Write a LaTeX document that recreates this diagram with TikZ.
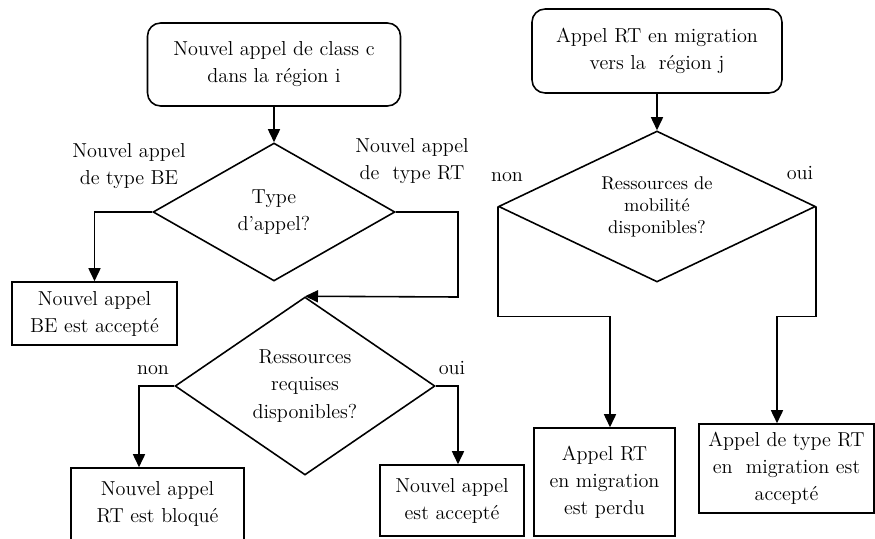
\documentclass[tikz,border=0pt]{standalone}
\usetikzlibrary{shapes.geometric,arrows.meta}
\begin{document}
\begin{tikzpicture}[x=0.02cm,y=-0.02cm,
    every node/.style={font=\fontsize{11.5}{15.4}\selectfont, align=center},
    debut/.style={draw, rectangle, rounded corners=0.26cm, line width=0.9pt, inner sep=0pt},
    choix/.style={draw, diamond, line width=0.9pt, inner sep=0pt},
    boite/.style={draw, rectangle, line width=0.9pt, inner sep=0pt},
    fleche/.style={line width=0.9pt, -{Triangle[length=0.26cm,width=0.24cm]}}]
    % Cadre
    \useasboundingbox (0,0) rectangle (875,538);
    \clip (0,0) rectangle (875,538);
    % Nouvel appel
    \node[debut, minimum width=5.06cm, minimum height=1.66cm] (appelc) at (274,64.5) {Nouvel appel de class c\\dans la région i};
    \node[choix, minimum width=4.84cm, minimum height=2.76cm] (type) at (274,212) {Type\\d'appel?};
    \node[boite, minimum width=3.3cm, minimum height=1.26cm] (beok) at (94.5,313.5) {Nouvel appel\\BE est accepté};
    \node[choix, minimum width=5.2cm, minimum height=3.56cm] (ress) at (305,386) {Ressources\\requises\\disponibles?};
    \node[boite, minimum width=3.46cm, minimum height=1.44cm] (rtbloc) at (157.5,504) {Nouvel appel\\RT est bloqué};
    \node[boite, minimum width=2.88cm, minimum height=1.42cm] (accept) at (452,500.5) {Nouvel appel\\est accepté};
    % Appel en migration
    \node[debut, minimum width=5.0cm, minimum height=1.68cm] (appelj) at (657,51) {Appel RT en migration\\vers la\ \ région j};
    \node[choix, aspect=2.1, minimum width=6.34cm, minimum height=3.02cm, font=\fontsize{10.5}{12.5}\selectfont] (mobil) at (657,206.5) {Ressources de\\mobilité\\disponibles?};
    \node[boite, minimum width=2.82cm, minimum height=2.16cm] (perdu) at (604.5,482) {Appel RT\\en migration\\est perdu};
    \node[boite, minimum width=3.5cm, minimum height=1.78cm] (migok) at (786.5,468.5) {Appel de type RT\\en\ \ migration est\\accepté};
    % Etiquettes
    \node (lbe) at (129,166) {Nouvel appel\\de type BE};
    \node (lrt) at (412,161) {Nouvel appel\\de\ \ type RT};
    \node (non1) at (153,370) {non};
    \node (oui1) at (452,368) {oui};
    \node (non2) at (507,177) {non};
    \node (oui2) at (800,173) {oui};
    % Fleches
    \coordinate (retour) at (458,297);
    \draw[fleche] (appelc) -- (type);
    \draw[fleche] (type.west) -| (beok.north);
    \draw[fleche] (type.east) -| (retour) -- (ress.north);
    \draw[fleche] (ress.west) -| ([xshift=-0.37cm]rtbloc.north);
    \draw[fleche] (ress.east) -| ([xshift=0.12cm]accept.north);
    \draw[fleche] (appelj) -- (mobil);
    \draw[fleche] (mobil.west) -- ++(0,110) -| ([xshift=0.11cm]perdu.north);
    \draw[fleche] (mobil.east) -- ++(0,110) -| ([xshift=-0.19cm]migok.north);
\end{tikzpicture}
\end{document}
